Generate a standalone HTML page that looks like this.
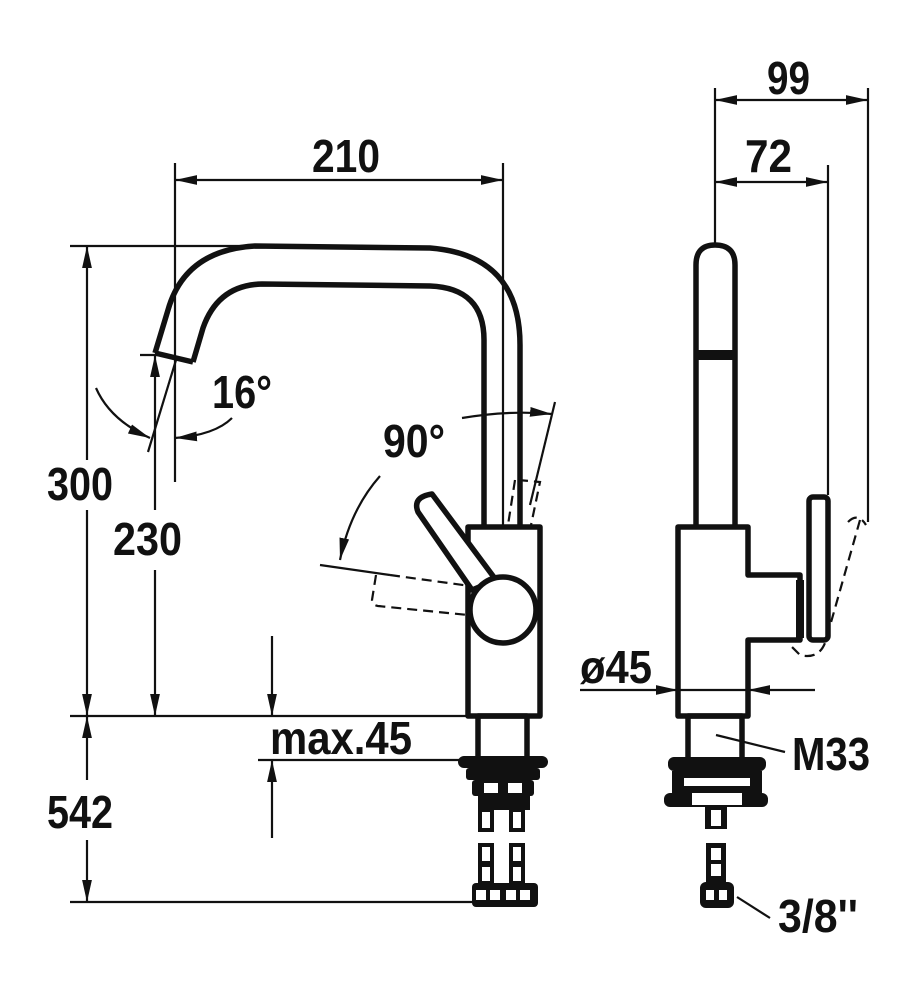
<!DOCTYPE html>
<html><head><meta charset="utf-8"><style>
html,body{margin:0;padding:0;background:#fff}
svg{display:block}
text{font-family:"Liberation Sans",sans-serif;font-weight:bold;fill:#111}
</style></head><body>
<svg width="916" height="1000" viewBox="0 0 916 1000" xmlns="http://www.w3.org/2000/svg">
<defs>
<marker id="b" viewBox="0 0 10 10" refX="10" refY="5" markerWidth="22" markerHeight="14" markerUnits="userSpaceOnUse" orient="auto-start-reverse" preserveAspectRatio="none"><path d="M0,1.5L10,5L0,8.5Z" fill="#111"/></marker>
</defs>
<g stroke="#111" fill="none" stroke-width="2.2">
<line x1="175" y1="163" x2="175" y2="482"/>
<line x1="503" y1="163" x2="503" y2="527"/>
<line x1="70" y1="246" x2="255" y2="246"/>
<line x1="70" y1="716" x2="470" y2="716"/>
<line x1="70" y1="902" x2="475" y2="902"/>
<line x1="140" y1="355" x2="160" y2="355"/>
<line x1="258" y1="760" x2="470" y2="760"/>
<line x1="175" y1="180" x2="503" y2="180" marker-start="url(#b)" marker-end="url(#b)"/>
<line x1="87" y1="246" x2="87" y2="460" marker-start="url(#b)"/>
<line x1="87" y1="510" x2="87" y2="716" marker-end="url(#b)"/>
<line x1="87" y1="716" x2="87" y2="780" marker-start="url(#b)"/>
<line x1="87" y1="840" x2="87" y2="902" marker-end="url(#b)"/>
<line x1="155" y1="355" x2="155" y2="510" marker-start="url(#b)"/>
<line x1="155" y1="570" x2="155" y2="716" marker-end="url(#b)"/>
<line x1="272" y1="636" x2="272" y2="716" marker-end="url(#b)"/>
<line x1="272" y1="838" x2="272" y2="760" marker-end="url(#b)"/>
<line x1="148" y1="452" x2="176" y2="360"/>
<path d="M96,388 Q110,420 150,438" marker-end="url(#b)"/>
<path d="M232,418 Q215,435 175,438" marker-end="url(#b)"/>
<path d="M462,418 Q510,410 552,414" marker-end="url(#b)"/>
<line x1="555" y1="402" x2="530" y2="505"/>
<path d="M380,476 Q350,510 340,560" marker-end="url(#b)"/>
<line x1="320" y1="565" x2="390" y2="575"/>
<g stroke-dasharray="10,6">
<path d="M390,575 L470,586 M376,575 L372,600 Q372,605 378,606 L468,615"/>
<path d="M515,480 L508,525 L500,580 M518,480 L540,482 L530,530 L520,600"/>
<path d="M860,520 L826,640 Q820,660 800,655 L790,645 M848,522 Q858,512 866,525"/>
</g>
<line x1="715" y1="88" x2="715" y2="245"/>
<line x1="868" y1="88" x2="868" y2="522"/>
<line x1="828" y1="165" x2="828" y2="495"/>
<line x1="715" y1="100" x2="868" y2="100" marker-start="url(#b)" marker-end="url(#b)"/>
<line x1="715" y1="182" x2="828" y2="182" marker-start="url(#b)" marker-end="url(#b)"/>
<line x1="580" y1="690" x2="678" y2="690" marker-end="url(#b)"/>
<line x1="815" y1="690" x2="748" y2="690" marker-end="url(#b)"/>
<line x1="678" y1="690" x2="748" y2="690"/>
<line x1="716" y1="735" x2="785" y2="752"/>
<line x1="737" y1="897" x2="770" y2="918"/>
</g>
<g stroke="#111" fill="none" stroke-width="5.5" stroke-linejoin="round">
<path d="M155,353 L168,310 Q185,250 255,246 L430,248 Q520,255 520,345 L520,525"/>
<path d="M193,362 L203,328 Q218,285 262,284 L430,286 Q484,288 484,340 L484,525"/>
<line x1="155" y1="353" x2="193" y2="362"/>
<rect x="468" y="527" width="72" height="189" fill="#fff"/>
<path d="M418,512 Q412,497 432,494 L496,580 L472,590 Z" fill="#fff"/>
<circle cx="503" cy="610" r="33" fill="#fff"/>
<rect x="478" y="716" width="49" height="44"/>
<path d="M696,525 L696,265 Q696,245 715,245 Q735,245 735,265 L735,525"/>
<path d="M678,527 L748,527 L748,575 L800,575 L800,640 L748,640 L748,716 L678,716 Z"/>
<rect x="809" y="497" width="19" height="143" rx="4"/>
<rect x="688" y="716" width="54" height="44"/>
</g>
<line x1="697" y1="355" x2="734" y2="355" stroke="#111" stroke-width="10"/>
<rect x="796" y="580" width="8" height="58" fill="#111"/>
<g fill="#111">
<rect x="458" y="756" width="90" height="12" rx="6"/>
<rect x="466" y="768" width="74" height="12" rx="3"/>
<rect x="472" y="780" width="62" height="16" rx="3"/>
<rect x="478" y="796" width="52" height="14"/>
<rect x="478" y="810" width="16" height="22"/><rect x="509" y="810" width="16" height="22"/>
<rect x="478" y="843" width="16" height="50"/><rect x="509" y="843" width="16" height="50"/>
<rect x="472" y="883" width="66" height="24" rx="4"/>
<rect x="668" y="757" width="98" height="14" rx="6"/>
<rect x="672" y="771" width="90" height="22"/>
<rect x="664" y="793" width="104" height="14" rx="6"/>
<rect x="705" y="807" width="22" height="22"/>
<rect x="706" y="843" width="20" height="40"/>
<rect x="700" y="882" width="34" height="26" rx="6"/>
</g>
<g fill="#fff">
<rect x="484" y="783" width="14" height="10"/><rect x="508" y="783" width="14" height="10"/>
<rect x="482" y="812" width="8" height="16"/><rect x="513" y="812" width="8" height="16"/>
<rect x="482" y="847" width="8" height="14"/><rect x="513" y="847" width="8" height="14"/>
<rect x="482" y="867" width="8" height="14"/><rect x="513" y="867" width="8" height="14"/>
<rect x="476" y="890" width="10" height="10"/><rect x="490" y="890" width="10" height="10"/><rect x="506" y="890" width="10" height="10"/><rect x="520" y="890" width="10" height="10"/>
<rect x="684" y="778" width="66" height="8"/>
<rect x="692" y="793" width="50" height="12"/>
<rect x="711" y="810" width="10" height="16"/>
<rect x="711" y="848" width="10" height="12"/><rect x="711" y="864" width="10" height="12"/>
<rect x="706" y="890" width="8" height="10"/><rect x="719" y="890" width="8" height="10"/>
</g>
<g font-size="46">
<text x="312" y="172" textLength="68" lengthAdjust="spacingAndGlyphs">210</text>
<text x="47" y="500" textLength="66" lengthAdjust="spacingAndGlyphs">300</text>
<text x="113" y="555" textLength="69" lengthAdjust="spacingAndGlyphs">230</text>
<text x="47" y="828" textLength="66" lengthAdjust="spacingAndGlyphs">542</text>
<text x="270" y="754" textLength="142" lengthAdjust="spacingAndGlyphs">max.45</text>
<text x="212" y="408" textLength="60" lengthAdjust="spacingAndGlyphs">16°</text>
<text x="383" y="457" textLength="62" lengthAdjust="spacingAndGlyphs">90°</text>
<text x="767" y="94" textLength="43" lengthAdjust="spacingAndGlyphs">99</text>
<text x="745" y="172" textLength="47" lengthAdjust="spacingAndGlyphs">72</text>
<text x="580" y="683" textLength="72" lengthAdjust="spacingAndGlyphs">ø45</text>
<text x="792" y="770" textLength="78" lengthAdjust="spacingAndGlyphs">M33</text>
<text x="778" y="932" textLength="80" lengthAdjust="spacingAndGlyphs">3/8''</text>
</g>
</svg>
</body></html>
